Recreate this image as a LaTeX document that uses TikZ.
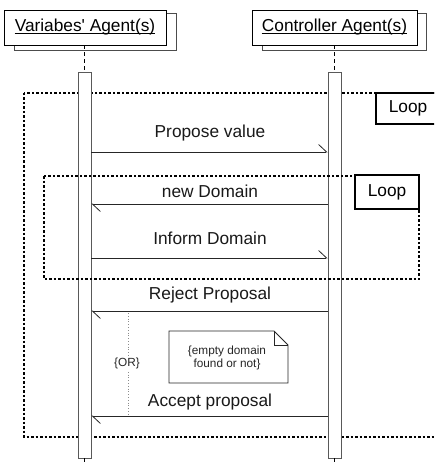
\documentclass[tikz,border=0pt]{standalone}
\usepackage{fontspec}
\setmainfont{Liberation Sans}
\usetikzlibrary{arrows.meta}
\begin{document}
\begin{tikzpicture}[x=1pt,y=-1pt,
  actor/.style={draw, fill=white, line width=0.8pt, minimum height=35pt, inner sep=0pt},
  actortext/.style={inner sep=0pt, font=\fontsize{17.3}{20}\selectfont},
  uline/.style={line width=1pt},
  shadowbox/.style={draw=black!70, fill=white, line width=0.8pt},
  actbar/.style={draw=black!65, fill=white, line width=0.8pt, minimum width=13pt, inner sep=0pt},
  lifeline/.style={dash pattern=on 4pt off 3pt, line width=0.8pt},
  msg/.style={line width=0.8pt, draw=black!85, -{Straight Barb[left,length=8pt,width=15pt]}},
  lbl/.style={font=\fontsize{17.3}{20}\selectfont, inner sep=0pt, text=black!90},
  loopframe/.style={dash pattern=on 2.5pt off 2pt, line width=1.3pt},
  looptag/.style={draw, line width=2.4pt, fill=white, inner sep=0pt, font=\fontsize{17.3}{20}\selectfont},
  notebox/.style={draw=black!85, line width=0.8pt, fill=white},
  small/.style={font=\fontsize{11.8}{13}\selectfont, inner sep=0pt, align=center, text=black!85},
  orline/.style={draw=black!45, dotted, line width=0.8pt}
]
\clip (0,0) rectangle (434,465);
\fill[white] (0,0) rectangle (434,465);

% actors
\draw[shadowbox] (14,13) rectangle (176,50);
\node[actor, minimum width=162pt] (va) at (85,27.5) {};
\node[actortext] (vat) at (va.center) {Variabes\textquotesingle\ Agent(s)};
\draw[uline] ([yshift=-2pt]vat.base west) -- ([yshift=-2pt]vat.base east);
\draw[shadowbox] (262,13) rectangle (426,50);
\node[actor, minimum width=165pt] (ca) at (334.5,27.5) {};
\node[actortext] (cat) at (ca.center) {Controller Agent(s)};
\draw[uline] ([yshift=-2pt]cat.base west) -- ([yshift=-2pt]cat.base east);

% outer loop frame
\draw[loopframe] (24,93) rectangle (450,437);

% activation bars
\node[actbar, minimum height=386pt] (bl) at (84.5,265) {};
\node[actbar, minimum height=386pt] (br) at (334.5,265) {};
\coordinate (bl-end) at (84.5,466);
\coordinate (br-end) at (334.5,466);
\draw[lifeline] (va.south -| bl.north) -- (bl.north);
\draw[lifeline] (ca.south -| br.north) -- (br.north);
\draw[lifeline] (bl.south) -- (bl-end);
\draw[lifeline] (br.south) -- (br-end);

% outer loop tag
\node[looptag, minimum width=64pt, minimum height=31pt] (tag1) at (408,108.5) {Loop};

% inner loop frame
\draw[loopframe] (44,176) rectangle (419,279);
\node[looptag, minimum width=64pt, minimum height=34pt] (tag2) at (387,192) {Loop};

% message endpoints
\coordinate (p1l) at (bl.east |- 0,152);  \coordinate (p1r) at (br.west |- 0,152);
\coordinate (p2l) at (bl.east |- 0,204);  \coordinate (p2r) at (br.west |- 0,204);
\coordinate (p3l) at (bl.east |- 0,258);  \coordinate (p3r) at (br.west |- 0,258);
\coordinate (p4l) at (bl.east |- 0,311);  \coordinate (p4r) at (br.west |- 0,311);
\coordinate (p5l) at (bl.east |- 0,416);  \coordinate (p5r) at (br.west |- 0,416);

\draw[msg] (p1l) -- (p1r);
\node[lbl] (m1) at (210,133) {Propose value};
\draw[msg] (p2r) -- (p2l);
\node[lbl] (m2) at (210,191) {new Domain};
\draw[msg] (p3l) -- (p3r);
\node[lbl] (m3) at (210,238) {Inform Domain};
\draw[msg] (p4r) -- (p4l);
\node[lbl] (m4) at (210,295) {Reject Proposal};
\draw[msg] (p5r) -- (p5l);
\node[lbl] (m5) at (210,402) {Accept proposal};

% OR
\coordinate (or-top) at (128,313);
\coordinate (or-bot) at (128,414);
\draw[orline] (or-top) -- (or-bot);
\node[small, fill=white, inner sep=1pt] (or) at (127,363) {\{OR\}};

% note
\draw[notebox] (169,331) -- (274,331) -- (288,345) -- (288,383) -- (169,383) -- cycle;
\draw[notebox, fill=none] (274,331) -- (274,345) -- (288,345);
\node[small] (note) at (227,357.5) {\{empty domain\\found or not\}};
\end{tikzpicture}
\end{document}
